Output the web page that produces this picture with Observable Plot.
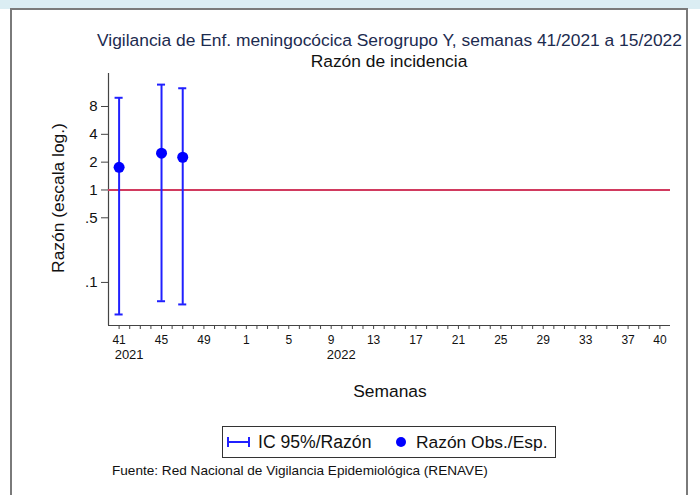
<!DOCTYPE html>
<html>
<head>
<meta charset="utf-8">
<script src="https://cdn.jsdelivr.net/npm/d3@7"></script>
<script src="https://cdn.jsdelivr.net/npm/@observablehq/plot@0.6"></script>
<style>
  body { margin: 0; background: #fff; }
  #wrap { position: relative; width: 700px; height: 495px; overflow: hidden; background: #fff; font-family: "Liberation Sans", Arial, sans-serif; }
  .abs { position: absolute; white-space: nowrap; }
</style>
</head>
<body>
<div id="wrap">
  <div class="abs" style="left:0;top:0;width:700px;height:9px;background:#dbedf3;"></div>
  <div class="abs" style="left:10px;top:8px;width:674px;height:500px;border:2px solid #7a7a7a;border-bottom:none;"></div>
  <div id="chart" class="abs" style="left:0;top:0;"></div>
  <div class="abs" style="left:0;width:779px;top:30px;line-height:20px;text-align:center;font-size:17.4px;color:#1c2b4f;">Vigilancia de Enf. meningocócica Serogrupo Y, semanas 41/2021 a 15/2022</div>
  <div class="abs" style="left:0;width:778px;top:51px;line-height:20px;text-align:center;font-size:17.4px;color:#111;">Razón de incidencia</div>
  <div class="abs" style="left:58px;top:198px;width:0;height:0;">
    <div style="position:absolute;left:-100px;top:-10px;width:200px;line-height:20px;text-align:center;font-size:17.4px;color:#111;transform:rotate(-90deg);">Razón (escala log.)</div>
  </div>
  <div class="abs" style="left:0;width:780px;top:381px;line-height:20px;text-align:center;font-size:17.4px;color:#111;">Semanas</div>
  <div class="abs" style="left:222px;top:426px;width:332px;height:30px;border:1px solid #333;"></div>
  <svg class="abs" style="left:226px;top:436px;" width="26" height="12">
    <line x1="2" y1="6" x2="23" y2="6" stroke="#2020ff" stroke-width="2"/>
    <line x1="2" y1="1" x2="2" y2="11" stroke="#2020ff" stroke-width="2"/>
    <line x1="23" y1="1" x2="23" y2="11" stroke="#2020ff" stroke-width="2"/>
  </svg>
  <div class="abs" style="left:258px;top:432px;line-height:20px;font-size:17.6px;color:#111;">IC 95%/Razón</div>
  <svg class="abs" style="left:395px;top:436px;" width="12" height="12">
    <circle cx="6" cy="6" r="5" fill="#0000ff"/>
  </svg>
  <div class="abs" style="left:416px;top:432px;line-height:20px;font-size:17.4px;color:#111;">Razón Obs./Esp.</div>
  <div class="abs" style="left:112px;top:463px;line-height:16px;font-size:13.6px;color:#111;">Fuente: Red Nacional de Vigilancia Epidemiológica (RENAVE)</div>
</div>
<script>
// Week sequence on the x axis (41/2021 ... 40/2022)
const weekSeq = [41,42,43,44,45,46,47,48,49,50,51,52,1,2,3,4,5,6,7,8,9,10,11,12,13,14,15,16,17,18,19,20,21,22,23,24,25,26,27,28,29,30,31,32,33,34,35,36,37,38,39,40];
const labeledWeeks = [41,45,49,1,5,9,13,17,21,25,29,33,37,40];
const yearLabels = ["2021", "2022"];
const yearWeeks = [41, 9];

// Observed data
const obsWeeks = [41, 45, 47];
const ratio = [1.76, 2.50, 2.26];
const lower = [0.045, 0.0626, 0.0578];
const upper = [9.94, 13.8, 12.6];

// Y ticks
const yTicks = [0.1, 0.5, 1, 2, 4, 8];
const yTickLabels = [".1", ".5", "1", "2", "4", "8"];

const data = obsWeeks.map((w, k) => ({i: weekSeq.indexOf(w), ratio: ratio[k], lower: lower[k], upper: upper[k]}));
const years = yearLabels.map((y, k) => ({i: weekSeq.indexOf(yearWeeks[k]), label: y}));
const yTickData = yTicks.map((v, k) => ({v, label: yTickLabels[k]}));
const idx = weekSeq.map((w, i) => i);

const blue = "#2020ff";
const axisColor = "#444";
const xMin = -1, xMax = 52;
const yMin = 0.0342, yMax = 18.2;
const tickLen = 0.66; // y tick length in x units (about 7px)

const chart = Plot.plot({
  width: 700,
  height: 495,
  marginLeft: 108,
  marginRight: 30,
  marginTop: 73,
  marginBottom: 170,
  style: {fontFamily: "'Liberation Sans', Arial, sans-serif", background: "transparent", color: "#111"},
  x: {domain: [xMin, xMax], axis: null},
  y: {type: "log", domain: [yMin, yMax], axis: null},
  marks: [
    // y axis ticks and labels
    Plot.ruleY(yTickData, {y: "v", x1: xMin - tickLen, x2: xMin, stroke: axisColor}),
    Plot.text(yTickData, {y: "v", text: "label", frameAnchor: "left", textAnchor: "end", dx: -11, fontSize: 15, fill: "#111"}),
    // x axis
    Plot.axisX(idx, {tickFormat: i => labeledWeeks.includes(weekSeq[i]) ? String(weekSeq[i]) : "", tickSize: 4, tickPadding: 6, fontSize: 12, label: null, stroke: axisColor}),
    Plot.ruleX([xMin], {stroke: axisColor, strokeWidth: 1.2}),
    Plot.ruleY([yMin], {stroke: axisColor, strokeWidth: 1.2}),
    Plot.ruleY([1], {stroke: "#d13a5f", strokeWidth: 2}),
    Plot.ruleX(data, {x: "i", y1: "lower", y2: "upper", stroke: blue, strokeWidth: 2}),
    Plot.ruleY(data, {y: "upper", x1: d => d.i - 0.38, x2: d => d.i + 0.38, stroke: blue, strokeWidth: 2}),
    Plot.ruleY(data, {y: "lower", x1: d => d.i - 0.38, x2: d => d.i + 0.38, stroke: blue, strokeWidth: 2}),
    Plot.dot(data, {x: "i", y: "ratio", r: 5.5, fill: "#0000ff"}),
    Plot.text(years, {x: "i", text: "label", frameAnchor: "bottom", dx: 10, dy: 33, fontSize: 13, fill: "#111"})
  ]
});
document.getElementById("chart").appendChild(chart);
</script>
</body>
</html>
